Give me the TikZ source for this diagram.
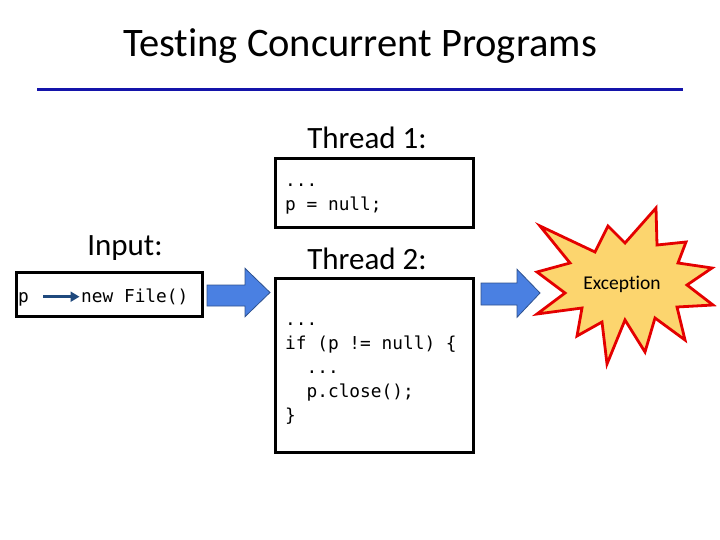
\documentclass[tikz,border=0pt]{standalone}
\usepackage{fontspec}
\setmainfont{Carlito}[Ligatures={NoCommon,NoRare,NoContextual}]
\newfontfamily\codefont{DejaVu Sans Mono}
\usetikzlibrary{arrows.meta}
\definecolor{titleline}{RGB}{20,20,170}
\definecolor{blockfill}{RGB}{74,128,226}
\definecolor{blockline}{RGB}{47,82,143}
\definecolor{burstfill}{RGB}{252,213,110}
\definecolor{burstline}{RGB}{228,0,0}
\definecolor{inarrow}{RGB}{31,73,125}
\tikzset{
  codeln/.style={font=\codefont\fontsize{17.8}{24}\selectfont, inner sep=0pt, text height=12pt, text depth=0pt, anchor=base west},
  lbl/.style={font=\fontsize{31}{36}\selectfont, inner sep=0pt, anchor=base},
  codebox/.style={draw=black, line width=3pt, inner sep=0pt},
  blockarrow/.style={fill=blockfill, draw=blockline, line width=0.8pt},
  burst/.style={fill=burstfill, draw=burstline, line width=2.8pt},
  ptrarrow/.style={draw=inarrow, line width=2.6pt, -{Triangle[length=9pt,width=10pt]}},
}
\begin{document}
\begin{tikzpicture}[x=1pt,y=-1pt]
\useasboundingbox (0,0) rectangle (720,540);
% title
\node[font=\fontsize{40.5}{46}\selectfont, inner sep=0pt, anchor=base] (title) at (360,57) {Testing Concurrent Programs};
\coordinate (tl1) at (37,90);
\coordinate (tl2) at (683,90);
\draw[titleline, line width=3pt] (tl1) -- (tl2);
% labels
\node[lbl] (t1lbl) at (367,149) {Thread 1:};
\node[lbl] (t2lbl) at (367,269) {Thread 2:};
\node[lbl] (inlbl) at (125,255) {Input:};
% boxes
\node[codebox, minimum width=198pt, minimum height=69pt] (t1box) at (374,193.5) {};
\node[codebox, minimum width=198pt, minimum height=174pt] (t2box) at (374,365) {};
\node[codebox, minimum width=186pt, minimum height=44pt] (inbox) at (109,294) {};
% thread 1 code
\node[codeln] (t1a) at (285,186.7) {...};
\node[codeln] (t1b) at (285,210.7) {p = null;};
% thread 2 code
\node[codeln] (t2a) at (285,325) {...};
\node[codeln] (t2b) at (285,349) {if (p != null) \{};
\node[codeln] (t2c) at (306.4,373) {...};
\node[codeln] (t2d) at (306.4,397) {p.close();};
\node[codeln] (t2e) at (285,421) {\}};
% input
\node[codeln] (pn) at (18,302.7) {p};
\node[codeln] (nf) at (81,302.7) {new File()};
\draw[ptrarrow, shorten <=14pt, shorten >=1.5pt] (pn) -- (nf);
% block arrows
\draw[blockarrow] (207,285) -- (245,285) -- (245,268.3) -- (270,292.5) -- (245,316.7) -- (245,306) -- (207,306) -- cycle;
\draw[blockarrow] (481,283) -- (517,283) -- (517,269.3) -- (540,293) -- (517,317.3) -- (517,305) -- (481,305) -- cycle;
% explosion
\draw[burst] (656,208) -- (657,245) -- (686,242) -- (678,263) -- (712,268) -- (687,285)
  -- (713,305) -- (677,307) -- (685,340) -- (655,318) -- (645,352) -- (625,320)
  -- (607,364) -- (602,322) -- (577,336) -- (582,308) -- (537,314) -- (565,293)
  -- (537,272) -- (570,263) -- (540,226) -- (595,252) -- (608,226) -- (625,243) -- cycle;
\node[font=\fontsize{19.5}{22}\selectfont, inner sep=0pt] (exc) at (622,284) {Exception};
\end{tikzpicture}
\end{document}
